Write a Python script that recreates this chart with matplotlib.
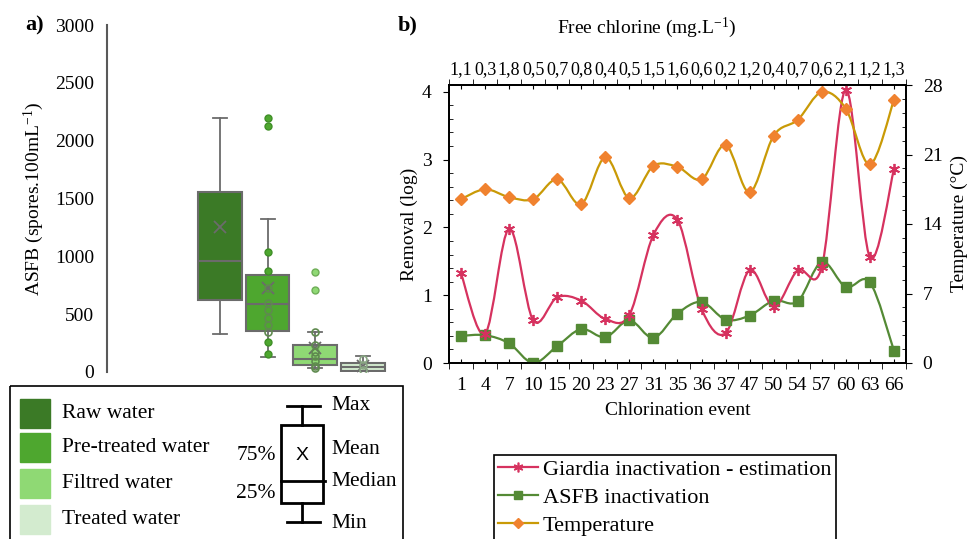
import matplotlib
matplotlib.use("Agg")
import matplotlib.pyplot as plt
from matplotlib.patches import Rectangle, PathPatch
from matplotlib.path import Path
from matplotlib.lines import Line2D
from matplotlib.ticker import MultipleLocator, FixedLocator

plt.rcParams['font.family'] = ['Liberation Serif', 'DejaVu Serif']
plt.rcParams['mathtext.fontset'] = 'custom'
plt.rcParams['mathtext.rm'] = 'Liberation Serif'
plt.rcParams['mathtext.it'] = 'Liberation Serif:italic'

# ---------------- data: panel a) ----------------
box_names = ["Raw water", "Pre-treated water", "Filtred water", "Treated water"]
box_colors = ["#3b7a26", "#4ea72f", "#8fd974", "#d3ebcf"]
box_q1 = [622, 351, 60, 9]
box_med = [960, 588, 112, 40]
box_q3 = [1553, 839, 233, 80]
box_lo = [326, 127, 32, 5]
box_hi = [2199, 1326, 343, 138]
box_mean = [1253, 723, 204, 55]
box_outliers = [[], [2199, 2124], [865, 709], []]
box_filled_inner = [[], [1037, 876, 262, 152], [], []]
box_hollow_inner = [[], [723, 599, 536, 470, 406, 343],
                    [343, 230, 175, 135, 95, 55, 32], [110, 60, 20]]

# ---------------- data: panel b) ----------------
events = ["1", "4", "7", "10", "15", "20", "23", "27", "31", "35", "36", "37",
          "47", "50", "54", "57", "60", "63", "66"]
chlorine = ["1,1", "0,3", "1,8", "0,5", "0,7", "0,8", "0,4", "0,5", "1,5", "1,6",
            "0,6", "0,2", "1,2", "0,4", "0,7", "0,6", "2,1", "1,2", "1,3"]
giardia = [1.32, 0.43, 1.98, 0.63, 0.97, 0.92, 0.65, 0.71, 1.89, 2.11, 0.80, 0.44,
           1.37, 0.83, 1.37, 1.42, 4.03, 1.56, 2.86]
asfb = [0.40, 0.41, 0.29, 0.0, 0.25, 0.50, 0.38, 0.63, 0.37, 0.73, 0.90, 0.64,
        0.70, 0.92, 0.91, 1.49, 1.12, 1.19, 0.18]
temperature = [16.5, 17.5, 16.7, 16.5, 18.5, 16.0, 20.7, 16.6, 19.85, 19.75, 18.5,
               21.96, 17.2, 22.9, 24.5, 27.3, 25.6, 20.0, 26.5]

W, H = 970, 539
fig = plt.figure(figsize=(W / 100, H / 100), dpi=100)


def fr(l, t, r, b):
    return [l / W, 1 - b / H, (r - l) / W, (b - t) / H]


# ---------------- panel a ----------------
axa = fig.add_axes(fr(107, 25, 395, 372))
stats = []
for i in range(4):
    stats.append(dict(med=box_med[i], q1=box_q1[i], q3=box_q3[i], whislo=box_lo[i],
                      whishi=box_hi[i], mean=box_mean[i], fliers=box_outliers[i]))
gray = "#6b6b6b"
pos = [1, 2, 3, 4]
bp = axa.bxp(stats, positions=pos, widths=0.92, capwidths=0.3, patch_artist=True,
             showmeans=True, showfliers=True,
             boxprops=dict(edgecolor=gray, linewidth=1.5),
             whiskerprops=dict(color=gray, linewidth=1.3),
             capprops=dict(color=gray, linewidth=1.3),
             medianprops=dict(color=gray, linewidth=1.5),
             meanprops=dict(marker='x', markeredgecolor=gray, markersize=8, markeredgewidth=1.3))
for i, b in enumerate(bp['boxes']):
    b.set_facecolor(box_colors[i])
flier_edges = ["#3b7a26", "#3f8f27", "#6fae58", "#8aa884"]
for i, f in enumerate(bp['fliers']):
    f.set_marker('o'); f.set_markersize(5); f.set_markerfacecolor(box_colors[i])
    f.set_markeredgecolor(flier_edges[i]); f.set_linestyle('none')
for i in range(4):
    if box_filled_inner[i]:
        axa.plot([pos[i]] * len(box_filled_inner[i]), box_filled_inner[i], 'o', ms=5,
                 mfc=box_colors[i], mec=flier_edges[i], zorder=4)
    if box_hollow_inner[i]:
        axa.plot([pos[i]] * len(box_hollow_inner[i]), box_hollow_inner[i], 'o', ms=5,
                 mfc='none', mec="#5f8a4f" if i < 3 else "#8aa884", mew=1.2, zorder=4)
axa.set_xlim(-1.38, 4.68)
axa.set_ylim(0, 3000)
axa.set_yticks([0, 500, 1000, 1500, 2000, 2500, 3000])
axa.tick_params(axis='y', length=0, pad=9, labelsize=14)
axa.set_xticks([])
for s in ['top', 'right', 'bottom']:
    axa.spines[s].set_visible(False)
axa.spines['left'].set_color('#595959')
axa.spines['left'].set_linewidth(1.5)
axa.set_ylabel(r"ASFB (spores.100mL$^{-1}$)", fontsize=14)
axa.yaxis.set_label_coords(-61 / 288, 0.5)
fig.text(35 / W, 1 - 25 / H, "a)", fontsize=16, fontweight='bold', ha='center', va='center')

# ---------------- panel b ----------------
axb = fig.add_axes(fr(449, 85, 906, 363))
x = list(range(len(events)))


def smooth(xs, ys):
    verts = [(xs[0], ys[0])]
    codes = [Path.MOVETO]
    n = len(xs)
    for i in range(n - 1):
        p0 = i - 1 if i > 0 else i
        p3 = i + 2 if i + 2 < n else i + 1
        c1 = (xs[i] + (xs[i + 1] - xs[p0]) / 6, ys[i] + (ys[i + 1] - ys[p0]) / 6)
        c2 = (xs[i + 1] - (xs[p3] - xs[i]) / 6, ys[i + 1] - (ys[p3] - ys[i]) / 6)
        verts += [c1, c2, (xs[i + 1], ys[i + 1])]
        codes += [Path.CURVE4] * 3
    return Path(verts, codes)


c_g, c_a, c_tl, c_tm = "#d6325f", "#548a35", "#c99a06", "#f0822f"
axb.add_patch(PathPatch(smooth(x, asfb), fill=False, edgecolor=c_a, lw=1.6, zorder=2))
axb.plot(x, asfb, ls='none', marker='s', ms=7, color=c_a, zorder=3)
axb.add_patch(PathPatch(smooth(x, giardia), fill=False, edgecolor=c_g, lw=1.6, zorder=2))
axb.plot(x, giardia, ls='none', marker=(6, 2, 0), ms=8, mew=1.3, color=c_g, zorder=3)
axb.set_xlim(-0.5, len(events) - 0.5)
axb.set_ylim(0, 4.1)
axb.set_xticks(x)
axb.set_xticklabels(events)
axb.xaxis.set_minor_locator(FixedLocator([i - 0.5 for i in range(len(events) + 1)]))
axb.tick_params(axis='x', which='major', direction='in', length=3, pad=10, labelsize=14)
axb.tick_params(axis='x', which='minor', direction='out', length=4)
axb.set_yticks([0, 1, 2, 3, 4])
axb.yaxis.set_minor_locator(MultipleLocator(0.2))
axb.tick_params(axis='y', which='major', direction='out', length=4.5, pad=8, labelsize=14)
axb.tick_params(axis='y', which='minor', direction='in', length=3)
axb.set_ylabel("Removal (log)", fontsize=14)
axb.yaxis.set_label_coords(-31 / 457, 0.5)
axb.set_xlabel("Chlorination event", fontsize=14, labelpad=6)
for s in axb.spines.values():
    s.set_linewidth(1.3)

axt = axb.twinx()
axt.add_patch(PathPatch(smooth(x, temperature), fill=False, edgecolor=c_tl, lw=1.6, zorder=2))
axt.plot(x, temperature, ls='none', marker='D', ms=6, color=c_tm, zorder=3)
axt.set_ylim(0, 28)
axt.set_yticks([0, 7, 14, 21, 28])
axt.yaxis.set_minor_locator(MultipleLocator(1.4))
axt.tick_params(axis='y', which='major', direction='out', length=4, pad=8, labelsize=14)
axt.tick_params(axis='y', which='minor', direction='in', length=3)
axt.set_ylabel("Temperature (°C)", fontsize=14, rotation=90)
axt.yaxis.set_label_coords(1 + 45 / 457, 0.5)
for s in axt.spines.values():
    s.set_linewidth(1.3)

sec = axb.secondary_xaxis('top')
sec.set_xticks(x)
sec.set_xticklabels(chlorine)
sec.xaxis.set_minor_locator(FixedLocator([i - 0.5 for i in range(len(events) + 1)]))
sec.tick_params(axis='x', which='major', direction='in', length=3, pad=5, labelsize=13)
sec.tick_params(axis='x', which='minor', direction='out', length=4)
sec.spines['top'].set_linewidth(1.3)
fig.text(647 / W, 1 - 28 / H, r"Free chlorine (mg.L$^{-1}$)", fontsize=14, ha='center', va='center')
fig.text(408 / W, 1 - 25 / H, "b)", fontsize=16, fontweight='bold', ha='center', va='center')

# legend b
handles = [Line2D([], [], color=c_g, lw=1.6, marker=(6, 2, 0), ms=7, mew=1.2),
           Line2D([], [], color=c_a, lw=1.6, marker='s', ms=6),
           Line2D([], [], color=c_tl, lw=1.6, marker='D', ms=5, mfc=c_tm, mec=c_tm)]
leg = fig.legend(handles, ["Giardia inactivation - estimation", "ASFB inactivation", "Temperature"],
                 loc='upper left', bbox_to_anchor=(494 / W, 1 - 455 / H), borderaxespad=0,
                 fontsize=16, handlelength=1.8, handletextpad=0.2, labelspacing=0.33,
                 borderpad=0.2, fancybox=False, edgecolor='black', framealpha=1)
leg.get_frame().set_linewidth(1.2)

# ---------------- legend a (overlay in pixel coordinates) ----------------
ov = fig.add_axes([0, 0, 1, 1], facecolor='none')
ov.set_xlim(0, W)
ov.set_ylim(H, 0)
ov.axis('off')
ov.add_patch(Rectangle((10, 386), 393, 170, fill=False, lw=1.2, edgecolor='black', clip_on=False))
ys = [413, 447.5, 483.5, 519]
for i in range(4):
    ov.add_patch(Rectangle((20, ys[i] - 14.5), 30, 29, color=box_colors[i]))
    ov.text(62, ys[i], box_names[i], fontsize=15.5, va='center', ha='left')
lw = 2
ov.add_patch(Rectangle((281, 425), 42, 78, fill=False, lw=lw, edgecolor='black'))
ov.plot([281, 325], [481, 481], color='black', lw=lw)
ov.plot([302, 302], [406, 425], color='black', lw=lw)
ov.plot([287, 320], [406, 406], color='black', lw=lw)
ov.plot([302, 302], [503, 522], color='black', lw=lw)
ov.plot([287, 320], [522, 522], color='black', lw=lw)
ov.text(302, 456, "X", family='Liberation Sans', fontsize=14, ha='center', va='center')
for lab, yy in [("Max", 406), ("Mean", 449), ("Median", 481), ("Min", 524)]:
    ov.text(331, yy, lab, fontsize=15.5, ha='left', va='center')
ov.text(276, 456, "75%", fontsize=15.5, ha='right', va='center')
ov.text(276, 494, "25%", fontsize=15.5, ha='right', va='center')

fig.savefig("out.png", dpi=100)
